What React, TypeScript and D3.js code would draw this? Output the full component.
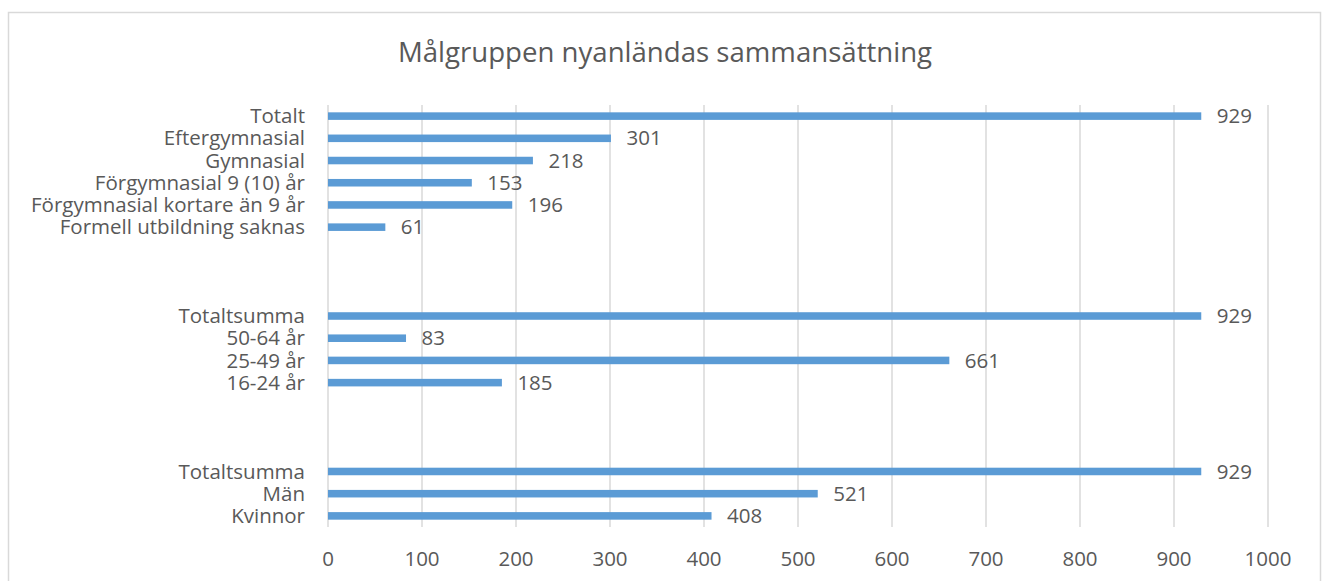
import React from "react";
import * as d3 from "d3";

const title = "Målgruppen nyanländas sammansättning";

const educationLabels = [
  "Totalt",
  "Eftergymnasial",
  "Gymnasial",
  "Förgymnasial 9 (10) år",
  "Förgymnasial kortare än 9 år",
  "Formell utbildning saknas",
];
const educationValues = [929, 301, 218, 153, 196, 61];

const ageLabels = ["Totaltsumma", "50-64 år", "25-49 år", "16-24 år"];
const ageValues = [929, 83, 661, 185];

const genderLabels = ["Totaltsumma", "Män", "Kvinnor"];
const genderValues = [929, 521, 408];

const xTicks = [0, 100, 200, 300, 400, 500, 600, 700, 800, 900, 1000];
const GAP_SLOTS = 3;

type Row = { key: string; label: string; value: number | null };

function buildRows(): Row[] {
  const groups = [
    [educationLabels, educationValues],
    [ageLabels, ageValues],
    [genderLabels, genderValues],
  ] as [string[], number[]][];
  const rows: Row[] = [];
  groups.forEach(([labels, values], gi) => {
    if (gi > 0) {
      for (let k = 0; k < GAP_SLOTS; k++) {
        rows.push({ key: `gap-${gi}-${k}`, label: "", value: null });
      }
    }
    labels.forEach((l, i) => rows.push({ key: `g${gi}-${i}`, label: l, value: values[i] }));
  });
  return rows;
}

const W = 1327;
const H = 581;
const FONT = "'Open Sans', sans-serif";
const TEXT = "#595959";
const GRID = "#D9D9D9";
const BAR = "#5B9BD5";

export default function App() {
  const rows = buildRows();
  const x = d3.scaleLinear().domain([0, 1000]).range([328, 1268]);
  const y = d3
    .scaleBand<string>()
    .domain(rows.map((r) => r.key))
    .range([105, 527])
    .paddingInner(0.66)
    .paddingOuter(0.33);
  const bw = y.bandwidth();

  return (
    <svg
      width={W}
      height={H}
      style={{ position: "absolute", left: 0, top: 0, background: "#fff" }}
      fontFamily={FONT}
    >
      <rect x={0} y={0} width={W} height={H} fill="#fff" />
      <rect x={8.5} y={12.5} width={1312} height={600} fill="none" stroke={GRID} strokeWidth={1.5} />
      <text x={665} y={62} textAnchor="middle" fontSize={27.6} fill={TEXT}>
        {title}
      </text>
      {xTicks.map((t) => (
        <line key={`g${t}`} x1={x(t)} x2={x(t)} y1={105} y2={527} stroke={GRID} strokeWidth={1.5} />
      ))}
      {rows.map((r) =>
        r.value == null ? null : (
          <g key={r.key}>
            <rect x={x(0)} y={y(r.key)!} width={x(r.value) - x(0)} height={bw} fill={BAR} />
            <text
              x={x(r.value) + 15.5}
              y={y(r.key)! + bw / 2}
              dy="0.35em"
              fontSize={20.5}
              fill={TEXT}
            >
              {r.value}
            </text>
            <text
              x={305}
              y={y(r.key)! + bw / 2}
              dy="0.35em"
              textAnchor="end"
              fontSize={20.5}
              fill={TEXT}
            >
              {r.label}
            </text>
          </g>
        )
      )}
      {xTicks.map((t) => (
        <text key={`t${t}`} x={x(t)} y={559} dy="0.35em" textAnchor="middle" fontSize={20.5} fill={TEXT}>
          {t}
        </text>
      ))}
    </svg>
  );
}
